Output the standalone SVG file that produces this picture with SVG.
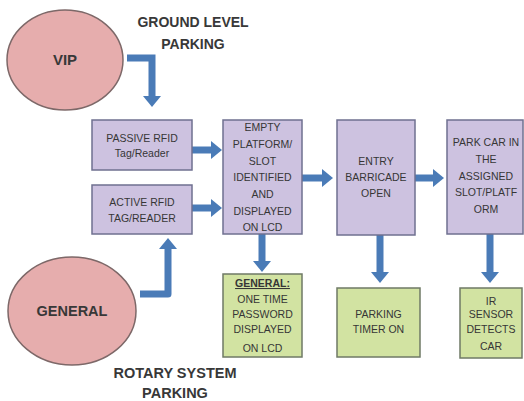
<svg xmlns="http://www.w3.org/2000/svg" width="524" height="401" viewBox="0 0 524 401">
<defs>
<style>
.ell{fill:#e6adad;stroke:#7d6868;stroke-width:1.5}
.pb{fill:#cdc2e0;stroke:#6f7090;stroke-width:1.5}
.gb{fill:#d2e3a2;stroke:#6f7a66;stroke-width:1.5}
.t{font-family:"Liberation Sans",Arial,sans-serif;font-size:10.5px;fill:#363636;text-anchor:middle}
.h{font-family:"Liberation Sans",Arial,sans-serif;font-size:14px;font-weight:bold;fill:#383838;text-anchor:middle}
.a{fill:none;stroke:#4a7bb7;stroke-width:7;marker-end:url(#ah)}
</style>
<marker id="ah" markerUnits="userSpaceOnUse" viewBox="0 0 11 18" refX="1" refY="9" markerWidth="11" markerHeight="18" orient="auto">
<path d="M0,0 L11,9 L0,18 z" fill="#4a7bb7"/>
</marker>
</defs>
<rect width="524" height="401" fill="#fff"/>
<g id="labels">
<text class="h" x="193" y="27">GROUND LEVEL</text>
<text class="h" x="193" y="49">PARKING</text>
<text class="h" x="175" y="378" style="font-size:14.5px">ROTARY SYSTEM</text>
<text class="h" x="175" y="398" style="font-size:14.5px">PARKING</text>
</g>
<g id="connectors">
<path class="a" d="M127,58 H152 V97"/>
<path class="a" d="M140,294 H168 V248" stroke-linejoin="round"/>
<path class="a" d="M192,150 H212"/>
<path class="a" d="M192,208 H212"/>
<path class="a" d="M302,178 H323"/>
<path class="a" d="M415,178 H434"/>
<path class="a" d="M262,234 V262"/>
<path class="a" d="M380,235 V273"/>
<path class="a" d="M490,234 V273"/>
</g>
<g id="vip">
<ellipse class="ell" cx="65" cy="60" rx="58" ry="50"/>
<text class="h" x="65" y="65" style="font-size:15px">VIP</text>
</g>
<g id="general">
<ellipse class="ell" cx="72" cy="311" rx="64" ry="54"/>
<text class="h" x="72" y="316" style="font-size:14.5px">GENERAL</text>
</g>
<g id="passive">
<rect class="pb" x="92" y="120" width="100" height="50"/>
<text class="t" x="142" y="142">PASSIVE RFID</text>
<text class="t" x="142" y="157">Tag/Reader</text>
</g>
<g id="active">
<rect class="pb" x="92" y="185" width="100" height="49"/>
<text class="t" x="142" y="206">ACTIVE RFID</text>
<text class="t" x="142" y="222">TAG/READER</text>
</g>
<g id="empty">
<rect class="pb" x="223" y="120" width="79" height="114"/>
<text class="t" x="262.5" y="131">EMPTY</text>
<text class="t" x="262.5" y="148">PLATFORM/</text>
<text class="t" x="262.5" y="165">SLOT</text>
<text class="t" x="262.5" y="181">IDENTIFIED</text>
<text class="t" x="262.5" y="198">AND</text>
<text class="t" x="262.5" y="215">DISPLAYED</text>
<text class="t" x="262.5" y="231">ON LCD</text>
</g>
<g id="entry">
<rect class="pb" x="337" y="120" width="78" height="115"/>
<text class="t" x="376" y="165">ENTRY</text>
<text class="t" x="376" y="181">BARRICADE</text>
<text class="t" x="376" y="197">OPEN</text>
</g>
<g id="park">
<rect class="pb" x="447" y="120" width="76" height="114"/>
<text class="t" x="486" y="146">PARK CAR IN</text>
<text class="t" x="486" y="163">THE</text>
<text class="t" x="486" y="180">ASSIGNED</text>
<text class="t" x="486" y="196">SLOT/PLATF</text>
<text class="t" x="486" y="213">ORM</text>
</g>
<g id="otp">
<rect class="gb" x="223" y="274" width="79" height="83"/>
<text class="t" x="262.5" y="287" text-decoration="underline" font-weight="bold">GENERAL:</text>
<text class="t" x="262.5" y="303">ONE TIME</text>
<text class="t" x="262.5" y="318">PASSWORD</text>
<text class="t" x="262.5" y="333">DISPLAYED</text>
<text class="t" x="262.5" y="352">ON LCD</text>
</g>
<g id="timer">
<rect class="gb" x="337" y="288" width="83" height="69"/>
<text class="t" x="378.5" y="318">PARKING</text>
<text class="t" x="378.5" y="333">TIMER ON</text>
</g>
<g id="ir">
<rect class="gb" x="460" y="288" width="62" height="70"/>
<text class="t" x="491" y="305">IR</text>
<text class="t" x="491" y="318">SENSOR</text>
<text class="t" x="491" y="333">DETECTS</text>
<text class="t" x="491" y="350">CAR</text>
</g>
</svg>
